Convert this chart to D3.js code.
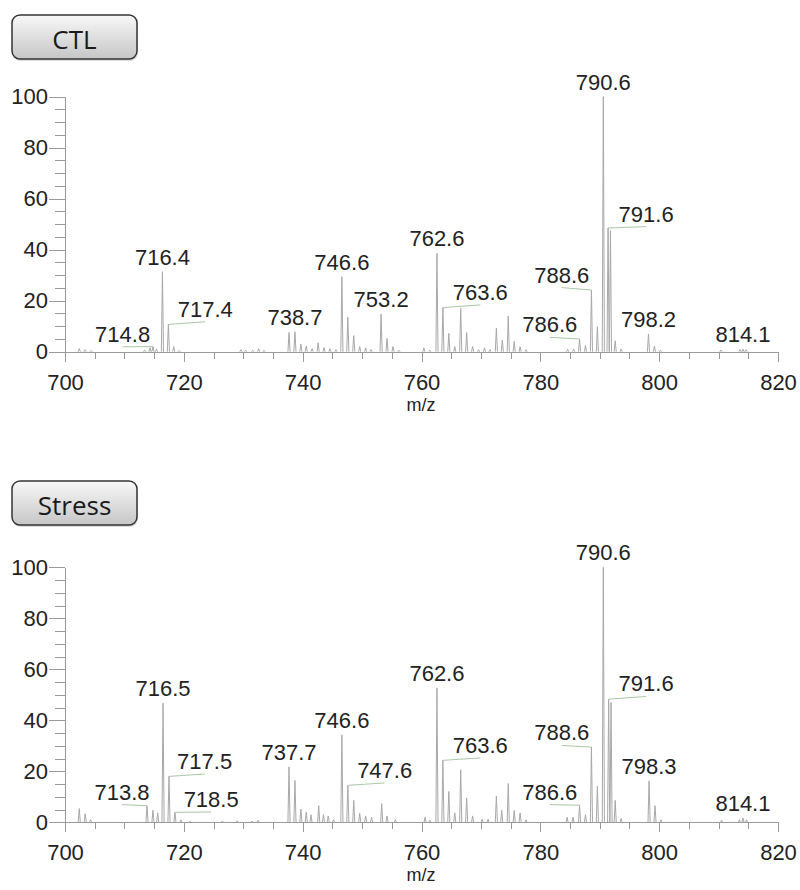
<!DOCTYPE html>
<html lang="en">
<head>
    <meta charset="utf-8" />
    <style>
        body {margin:0; background:#fff;}
        text {font-family: "Liberation Sans", Arial, Helvetica, sans-serif; fill: #222;}
        .axis path, .axis line {stroke: #9a9a9a; shape-rendering: crispEdges;}
        .peak {fill: none; stroke: #a8a8a8; stroke-width: 1;}
        .conn {stroke: #a9c9a4; stroke-width: 1; fill: none;}
        .btn text {font-family: "Open Sans", "Noto Sans", sans-serif; fill: #1a1a1a;}
    </style>
    <script src="https://cdn.jsdelivr.net/npm/d3@7"></script>
</head>
<body>
    <svg></svg>
</body>
<script>
    var width = 800,
        height = 890;

    // m/z, relative intensity (%)
    var ctlPeaks = [
        [702.4,1.2],[703.4,0.8],[704.4,0.5],[713.4,0.6],[714.3,1.6],[714.8,2],[715.4,1],
        [716.4,31.4],[717.4,10.7],[718.3,2],[719.2,0.5],[729.6,0.8],[730.4,0.6],[731.6,0.6],
        [732.6,1.2],[733.5,0.6],[737.7,7.5],[738.7,7.8],[739.7,3],[740.6,2.2],[741.6,1.2],
        [742.6,3.5],[743.6,1.6],[744.6,1.2],[745.6,0.8],[746.6,29.4],[747.6,13.5],[748.6,6.3],
        [749.6,2],[750.6,1.5],[751.5,0.8],[753.2,14.8],[754.2,5.2],[755.2,2],[756.2,0.6],
        [760.4,1.5],[761.4,0.6],[762.6,38.6],[763.6,17.3],[764.6,7.2],[765.6,2],[766.6,17],
        [767.6,7.5],[768.6,2],[769.6,0.8],[770.6,1.5],[771.5,0.8],[772.6,9.2],[773.6,4.6],
        [774.6,14],[775.6,4],[776.6,2],[777.6,0.8],[784.6,1],[785.6,1],[786.6,5],[787.6,2.5],
        [788.6,24.2],[789.6,9.8],[790.6,100],[791.4,48.5],[791.8,47.5],[792.6,4.3],[793.6,1],
        [798.2,6.9],[799.2,2.2],[800.2,0.6],[810.4,0.7],[813.6,0.8],[814.1,1],[814.6,0.8]
    ];

    var stressPeaks = [
        [702.4,5.4],[703.4,3.4],[704.3,1],[713.8,6.5],[714.8,4.7],[715.6,3.7],[716.5,46.7],
        [717.5,18],[718.5,3.9],[719.5,1],[721,0.5],[726.5,0.5],[729,0.6],[731.5,0.5],[732.5,0.8],
        [737.7,21.7],[738.7,16.4],[739.7,5.2],[740.6,4],[741.4,3],[742.7,6.5],[743.5,3],
        [744.3,2.5],[745.2,1],[746.6,34.3],[747.6,14.5],[748.6,8.6],[749.6,3.5],[750.6,2.5],
        [751.6,2],[753.3,7.3],[754.2,2.5],[755.6,1],[760.6,2],[761.4,0.8],[762.6,52.7],
        [763.6,24.3],[764.6,12.1],[765.6,3.7],[766.6,20.6],[767.6,9.5],[768.6,2.5],[770.2,1.2],
        [771.2,1.2],[772.6,10.2],[773.5,4.7],[774.6,15.2],[775.6,4.7],[776.6,3.7],[777.6,1],
        [784.5,2],[785.5,2],[786.6,6.7],[787.6,3],[788.6,29.5],[789.6,14.1],[790.6,100],
        [791.5,48.3],[791.9,47],[792.6,8.6],[793.6,1.5],[798.3,16.2],[799.3,6.5],[800.3,1],
        [810.5,0.8],[813.5,1],[814.1,1.7],[814.7,1]
    ];

    // label text, peak m/z, label anchor (m/z, %) when moved off the peak
    var ctlLabels = [
        ["714.8", 714.8, 709.7, 3.9], ["716.4", 716.4], ["717.4", 717.4, 723.6, 13.7],
        ["738.7", 738.7], ["746.6", 746.6], ["753.2", 753.2], ["762.6", 762.6],
        ["763.6", 763.6, 769.9, 20.3], ["786.6", 786.6, 781.6, 7.6], ["788.6", 788.6, 783.6, 27.1],
        ["790.6", 790.6], ["791.6", 791.4, 797.8, 51], ["798.2", 798.2], ["814.1", 814.1]
    ];

    var stressLabels = [
        ["713.8", 713.8, 709.6, 8.9], ["716.5", 716.5], ["717.5", 717.5, 723.5, 20.9],
        ["718.5", 718.5, 724.6, 6], ["737.7", 737.7], ["746.6", 746.6],
        ["747.6", 747.6, 753.8, 17.4], ["762.6", 762.6], ["763.6", 763.6, 769.9, 27.2],
        ["786.6", 786.6, 781.6, 8.9], ["788.6", 788.6, 783.6, 32.1], ["790.6", 790.6],
        ["791.6", 791.5, 797.8, 51.3], ["798.3", 798.3], ["814.1", 814.1]
    ];

    var panels = [
        {name: "CTL", peaks: ctlPeaks, labels: ctlLabels, top: 96.7, btnY: 15},
        {name: "Stress", peaks: stressPeaks, labels: stressLabels, top: 567.3, btnY: 481}
    ];

    var svg = d3.select("svg")
        .attr("width", width)
        .attr("height", height)

    var grad = svg.append("defs").append("linearGradient")
        .attr("id", "btnGrad").attr("x1", 0).attr("y1", 0).attr("x2", 0).attr("y2", 1)
    grad.append("stop").attr("offset", "0%").attr("stop-color", "#f8f8f8")
    grad.append("stop").attr("offset", "100%").attr("stop-color", "#c6c6c6")

    var x = d3.scaleLinear().domain([700, 820]).range([65, 778]);

    panels.forEach(drawPanel);

    function drawPanel(p) {
        var y = d3.scaleLinear().domain([0, 100]).range([p.top + 255, p.top]);
        var g = svg.append("g");

        // button-like title
        var b = g.append("g").attr("class", "btn").attr("transform", "translate(12," + p.btnY + ")")
        b.append("rect").attr("x", 1).attr("y", 2).attr("width", 125).attr("height", 44)
            .attr("rx", 8).attr("fill", "#ddd")
        b.append("rect").attr("width", 125).attr("height", 44).attr("rx", 8)
            .attr("fill", "url(#btnGrad)").attr("stroke", "#353535").attr("stroke-width", 1.5)
        b.append("text").attr("x", 62.5).attr("y", 34).attr("text-anchor", "middle")
            .style("font-size", "26px").text(p.name)

        // axes
        var axisY = y(0);
        g.append("g").attr("class", "axis").attr("transform", "translate(0," + axisY + ")")
            .call(d3.axisBottom(x).tickValues(d3.range(700, 821, 5)).tickSize(7).tickSizeOuter(0).tickFormat(""))
        var xa = g.append("g").attr("class", "axis").attr("transform", "translate(0," + axisY + ")")
            .call(d3.axisBottom(x).tickValues(d3.range(700, 821, 20)).tickSize(10).tickSizeOuter(0))
        xa.selectAll("text").attr("y", 38).attr("dy", null).style("font-size", "22px")

        g.append("g").attr("class", "axis").attr("transform", "translate(65,0)")
            .call(d3.axisLeft(y).tickValues(d3.range(0, 101, 5)).tickSize(10).tickSizeOuter(0).tickFormat(""))
        var ya = g.append("g").attr("class", "axis").attr("transform", "translate(65,0)")
            .call(d3.axisLeft(y).tickValues(d3.range(0, 101, 20)).tickSize(16).tickSizeOuter(0).tickPadding(1))
        ya.selectAll("text").style("font-size", "22px")
        g.selectAll(".axis .domain").attr("stroke", "#9a9a9a")

        g.append("text").attr("x", 421).attr("y", axisY + 59).attr("text-anchor", "middle")
            .style("font-size", "18px").text("m/z")

        // spectrum
        g.append("g").selectAll("path")
            .data(p.peaks)
          .enter().append("path")
            .attr("class", "peak")
            .attr("d", function(d) {
                return "M" + x(d[0] - 0.18) + "," + y(0) + "L" + x(d[0]) + "," + y(d[1]) + "L" + x(d[0] + 0.18) + "," + y(0)
            })

        // labels
        function peakOf(mz) {
            return p.peaks.reduce(function(a, b) {return Math.abs(b[0] - mz) < Math.abs(a[0] - mz) ? b : a})
        }
        var lab = g.append("g").selectAll("g")
            .data(p.labels)
          .enter().append("g")

        lab.filter(function(d) {return d.length > 2}).append("path")
            .attr("class", "conn")
            .attr("d", function(d) {
                var pk = peakOf(d[1]);
                return "M" + x(pk[0]) + "," + y(pk[1]) + "L" + x(d[2]) + "," + (y(d[3]) + 5)
            })

        lab.append("text")
            .attr("text-anchor", "middle")
            .style("font-size", "22px")
            .attr("x", function(d) {return d.length > 2 ? x(d[2]) : x(peakOf(d[1])[0])})
            .attr("y", function(d) {return d.length > 2 ? y(d[3]) : y(peakOf(d[1])[1]) - 7})
            .text(function(d) {return d[0]})
    }
</script>
</html>
